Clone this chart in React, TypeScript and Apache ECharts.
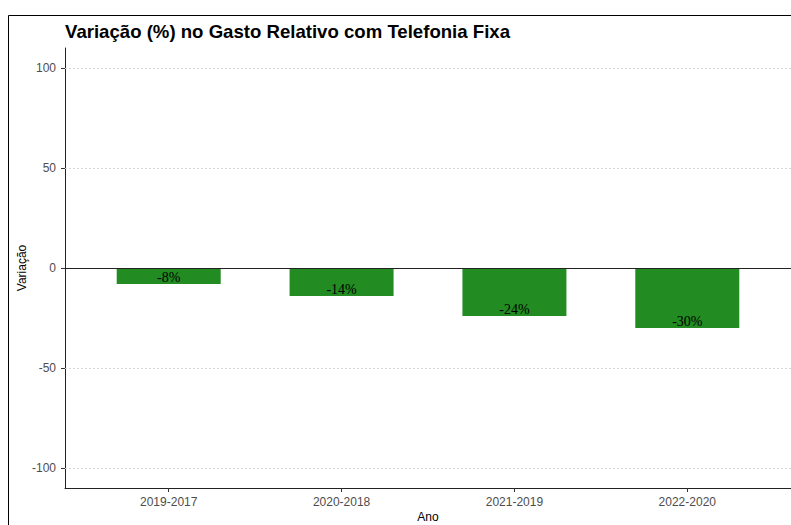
import React, { useEffect, useRef } from "react";
import * as echarts from "echarts";

const categories = ["2019-2017", "2020-2018", "2021-2019", "2022-2020"];
const values = [-8, -14, -24, -30];
const yTicks = [-100, -50, 0, 50, 100];
const titleText = "Variação (%) no Gasto Relativo com Telefonia Fixa";
const yTitle = "Variação";
const xTitle = "Ano";

export default function App() {
  const ref = useRef<HTMLDivElement>(null);
  useEffect(() => {
    if (!ref.current) return;
    const chart = echarts.init(ref.current, null, { renderer: "svg" });
    const xPositions = categories.map((_, i) => i + 1);
    chart.setOption({
      animation: false,
      backgroundColor: "#ffffff",
      title: {
        text: titleText,
        left: 60,
        top: 17,
        textStyle: {
          fontFamily: "Liberation Sans",
          fontSize: 18.6,
          fontWeight: "bold",
          color: "#000000",
        },
      },
      grid: { left: 65, right: 0, top: 48, bottom: 37, containLabel: false },
      xAxis: {
        type: "value",
        min: 0.4,
        max: 4.6,
        axisLine: { show: true, onZero: false, lineStyle: { color: "#222", width: 1 } },
        axisTick: { show: true, length: 4, customValues: xPositions, lineStyle: { color: "#333" } },
        axisLabel: {
          customValues: xPositions,
          margin: 8,
          fontFamily: "Liberation Sans",
          fontSize: 12,
          color: "#4d4d4d",
          formatter: (v: number) => categories[Math.round(v) - 1] ?? "",
        },
        splitLine: { show: false },
      },
      yAxis: {
        type: "value",
        min: -110,
        max: 110,
        axisLine: { show: true, onZero: false, lineStyle: { color: "#222", width: 1 } },
        axisTick: { show: true, length: 4, customValues: yTicks, lineStyle: { color: "#333" } },
        axisLabel: {
          customValues: yTicks,
          margin: 9,
          fontFamily: "Liberation Sans",
          fontSize: 12,
          color: "#4d4d4d",
        },
        splitLine: { show: false },
      },
      series: [
        {
          type: "bar",
          data: values.map((v, i) => [xPositions[i], v]),
          barWidth: 104,
          itemStyle: { color: "#228B22" },
          label: {
            show: true,
            position: "insideBottom",
            distance: 0,
            formatter: (p: any) => `${p.value[1]}%`,
            fontFamily: "Liberation Serif",
            fontSize: 14,
            color: "#000000",
          },
          markLine: {
            silent: true,
            symbol: "none",
            label: { show: false },
            z: 1,
            data: [
              ...yTicks
                .filter((t) => t !== 0)
                .map((t) => ({ yAxis: t, lineStyle: { color: "#d6d6d6", type: [2, 2], width: 1 } })),
            ],
          },
        },
        {
          type: "line",
          data: [],
          markLine: {
            silent: true,
            symbol: "none",
            label: { show: false },
            z: 5,
            data: [{ yAxis: 0, lineStyle: { color: "#222", type: "solid", width: 1 } }],
          },
        },
      ],
      graphic: [
        {
          type: "rect",
          shape: { x: 8.5, y: 15.5, width: 900, height: 700 },
          style: { fill: "none", stroke: "#000", lineWidth: 1 },
          silent: true,
        },
        {
          type: "text",
          x: 22,
          y: 268,
          rotation: Math.PI / 2,
          style: {
            text: yTitle,
            fontFamily: "Liberation Sans",
            fontSize: 12,
            fill: "#000",
            align: "center",
            verticalAlign: "middle",
          },
        },
        {
          type: "text",
          x: 428,
          y: 517,
          style: {
            text: xTitle,
            fontFamily: "Liberation Sans",
            fontSize: 12,
            fill: "#000",
            align: "center",
            verticalAlign: "middle",
          },
        },
      ],
    });
    return () => chart.dispose();
  }, []);
  return (
    <div
      ref={ref}
      style={{ position: "fixed", left: 0, top: 0, width: 791, height: 525, background: "#fff" }}
    />
  );
}
